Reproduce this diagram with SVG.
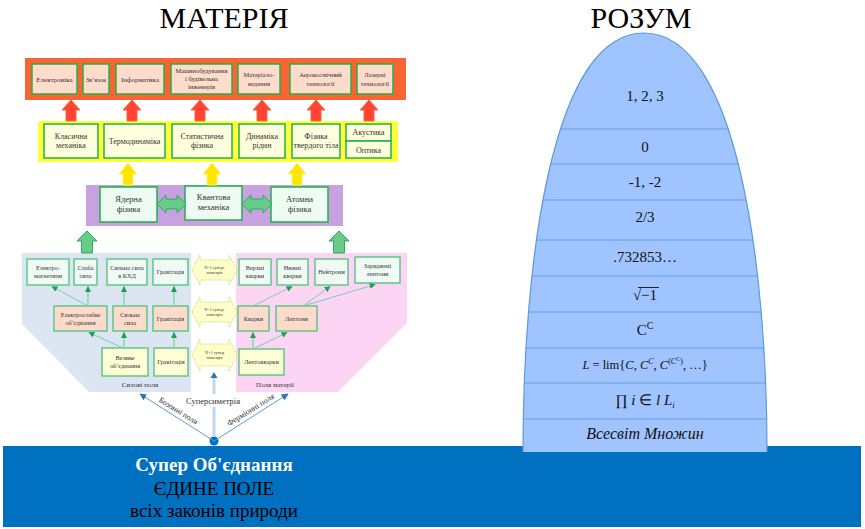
<svg xmlns="http://www.w3.org/2000/svg" width="865" height="529" viewBox="0 0 865 529">
<defs>
<style>
text{font-family:"Liberation Serif","Times New Roman",serif;fill:#333;text-anchor:middle}
.ob{fill:#FDDCCB;stroke:#22B04B;stroke-width:1.5}
.yb{fill:#FFFFDD;stroke:#22B04B;stroke-width:1.5}
.pb{fill:#EEFBF3;stroke:#22B04B;stroke-width:1.5}
.mb{fill:#F0FAF4;stroke:#4CC27A;stroke-width:1.3}
.pe{fill:#FCDBCB;stroke:#4CC27A;stroke-width:1.3}
.ly{fill:#FFFFD5;stroke:#4CC27A;stroke-width:1.3}
.t7{font-size:7px}
.t65{font-size:6.5px}
.t8{font-size:8px}
.t85{font-size:8.5px}
.t6{font-size:6.3px}
.ra{fill:#FF4433;stroke:#F26A3A;stroke-width:1}
.ya{fill:#FFE600;stroke:#FFF06A;stroke-width:1}
.ga{fill:#66CC88;stroke:#2FAA60;stroke-width:1}
.hx{fill:#FFFFCC;stroke:#C9DE5A;stroke-width:0.8;stroke-dasharray:2 1}
.hxt{font-size:4.3px}
.cn{stroke:#6CCCA8;stroke-width:0.9;fill:none;marker-end:url(#gh)}
.cv{stroke:#8AD8B0;stroke-width:1.6;fill:none;marker-end:url(#gh)}
.bl{stroke:#5B9BD5;stroke-width:1;fill:none;marker-end:url(#bh)}
.dm{font-size:15px;fill:#111}
.i{font-style:italic}
</style>
<marker id="gh" viewBox="0 0 10 10" refX="9" refY="5" markerWidth="6" markerHeight="6" markerUnits="userSpaceOnUse" orient="auto"><path d="M0,0 L10,5 L0,10 Z" fill="#1E9E50"/></marker>
<marker id="bh" viewBox="0 0 10 10" refX="9" refY="5" markerWidth="7" markerHeight="7" markerUnits="userSpaceOnUse" orient="auto"><path d="M0,0 L10,5 L0,10 Z" fill="#2E75B6"/></marker>
<clipPath id="domeclip"><path d="M523,452 C523,270 550,33 644,33 C738,33 767,270 767,452 Z"/></clipPath>
</defs>

<g id="titles">
<text x="224" y="28" style="font-size:30px;fill:#000">МАТЕРІЯ</text>
<text x="641" y="28" style="font-size:30px;fill:#000">РОЗУМ</text>
</g>

<g id="band">
<rect x="3" y="446" width="858" height="81" fill="#0070C0"/>
<text x="214" y="471" style="font-size:19px;font-weight:bold;fill:#fff">Супер Об'єднання</text>
<text x="214" y="495" style="font-size:19px;fill:#000">ЄДИНЕ ПОЛЕ</text>
<text x="214" y="517" style="font-size:19px;fill:#000">всіх законів природи</text>
</g>

<g id="dome">
<path d="M523,452 C523,270 550,33 644,33 C738,33 767,270 767,452 Z" fill="#A0C4FF"/>
<g clip-path="url(#domeclip)" stroke="#6A9FD8" stroke-width="1">
<line x1="500" y1="129" x2="800" y2="129"/>
<line x1="500" y1="164" x2="800" y2="164"/>
<line x1="500" y1="200" x2="800" y2="200"/>
<line x1="500" y1="240" x2="800" y2="240"/>
<line x1="500" y1="276" x2="800" y2="276"/>
<line x1="500" y1="312" x2="800" y2="312"/>
<line x1="500" y1="348" x2="800" y2="348"/>
<line x1="500" y1="383" x2="800" y2="383"/>
<line x1="500" y1="419" x2="800" y2="419"/>
</g>
<path d="M523,452 C523,270 550,33 644,33 C738,33 767,270 767,452" fill="none" stroke="#5B9BD5" stroke-width="1.2"/>
<text class="dm" x="645" y="101">1, 2, 3</text>
<text class="dm" x="645" y="152">0</text>
<text class="dm" x="645" y="187">-1, -2</text>
<text class="dm" x="645" y="222">2/3</text>
<text class="dm" x="645" y="262">.732853…</text>
<text class="dm" x="645" y="300">√−1</text>
<line x1="638" y1="287.5" x2="659" y2="287.5" stroke="#111" stroke-width="0.9"/>
<text class="dm" x="645" y="335">C<tspan dy="-6" style="font-size:10px">C</tspan></text>
<text class="dm" x="645" y="369" style="font-size:12.5px"><tspan class="i">L</tspan> =  lim{<tspan class="i">C</tspan>, <tspan class="i">C</tspan><tspan class="i" dy="-5" style="font-size:8px">C</tspan><tspan dy="5">, </tspan><tspan class="i">C</tspan><tspan dy="-5" style="font-size:8px">(</tspan><tspan class="i" style="font-size:8px">C</tspan><tspan class="i" dy="-3" style="font-size:6px">C</tspan><tspan dy="3" style="font-size:8px">)</tspan><tspan dy="5">, …}</tspan></text>
<text class="dm" x="645" y="405">∏ <tspan class="i">i</tspan> ∈ <tspan class="i">l L</tspan><tspan class="i" dy="3" style="font-size:9px">i</tspan></text>
<text class="dm i" x="645" y="439" style="font-size:16px">Всесвіт Множин</text>
</g>

<g id="orange-bar">
<rect x="25" y="58" width="381" height="42" fill="#FA6432"/>
</g>
<g id="n-electronics"><rect class="ob" x="32" y="64" width="45" height="30"/><text class="t7" x="54.5" y="81.5">Електроніка</text></g>
<g id="n-zvyazok"><rect class="ob" x="83" y="64" width="26" height="30"/><text class="t65" x="96" y="81.5">Зв’язок</text></g>
<g id="n-informatics"><rect class="ob" x="116" y="64" width="48" height="30"/><text class="t7" x="140" y="81.5">Інформатика</text></g>
<g id="n-mechanical"><rect class="ob" x="171" y="64" width="61" height="30"/><text class="t65" x="201.5" y="73">Машинобудування</text><text class="t65" x="201.5" y="81">і будівельна</text><text class="t65" x="201.5" y="89">інженерія</text></g>
<g id="n-materials"><rect class="ob" x="238" y="64" width="42" height="30"/><text class="t65" x="259" y="77">Матеріало-</text><text class="t65" x="259" y="86">ведення</text></g>
<g id="n-aerospace"><rect class="ob" x="290" y="64" width="61" height="30"/><text class="t65" x="320.5" y="77">Аерокосмічний</text><text class="t65" x="320.5" y="86">технології</text></g>
<g id="n-laser"><rect class="ob" x="357" y="64" width="36" height="30"/><text class="t65" x="375" y="77">Лазерні</text><text class="t65" x="375" y="86">технології</text></g>

<g id="yellow-bar">
<rect x="38" y="121" width="360" height="41" fill="#FFFF3C"/>
</g>
<g id="n-classical"><rect class="yb" x="44" y="124" width="54" height="34"/><text class="t8" x="71" y="139">Класична</text><text class="t8" x="71" y="148">механіка</text></g>
<g id="n-thermo"><rect class="yb" x="104" y="124" width="61" height="34"/><text class="t8" x="134.5" y="143.5">Термодинаміка</text></g>
<g id="n-statistical"><rect class="yb" x="172" y="124" width="60" height="34"/><text class="t8" x="202" y="139">Статистична</text><text class="t8" x="202" y="148">фізика</text></g>
<g id="n-fluid"><rect class="yb" x="239" y="124" width="46" height="34"/><text class="t8" x="262" y="139">Динаміка</text><text class="t8" x="262" y="148">рідин</text></g>
<g id="n-solid"><rect class="yb" x="292" y="124" width="48" height="34"/><text class="t8" x="316" y="139">Фізика</text><text class="t8" x="316" y="148">твердого тіла</text></g>
<g id="n-acoustics"><rect class="yb" x="346" y="124" width="45" height="17"/><text class="t8" x="368.5" y="135">Акустика</text></g>
<g id="n-optics"><rect class="yb" x="346" y="141" width="45" height="17"/><text class="t8" x="368.5" y="152.5">Оптика</text></g>

<g id="purple-bar">
<rect x="86" y="185" width="257" height="41" fill="#C8A2E0"/>
</g>
<g id="n-nuclear"><rect class="pb" x="100" y="187" width="57" height="35"/><text class="t85" x="128.5" y="202">Ядерна</text><text class="t85" x="128.5" y="212">фізика</text></g>
<g id="n-quantum"><rect class="pb" x="185" y="186" width="57" height="34"/><text class="t85" x="213.5" y="200">Квантова</text><text class="t85" x="213.5" y="210">механіка</text></g>
<g id="n-atomic"><rect class="pb" x="271" y="187" width="57" height="35"/><text class="t85" x="299.5" y="202">Атомна</text><text class="t85" x="299.5" y="212">фізика</text></g>

<g id="force-fields">
<path d="M22,253 L191,253 L191,392 L89,392 L22,324 Z" fill="#DCE6F2"/>
<text x="140" y="386.5" style="font-size:7px">Силові поля</text>
</g>
<g id="matter-fields">
<path d="M236,253 L407,253 L407,323 L338,392 L236,392 Z" fill="#FCD5F4"/>
<text x="275" y="386.5" style="font-size:7px">Поля матерії</text>
</g>

<g id="n-em"><rect class="mb" x="27" y="259" width="42" height="26"/><text class="t6" x="48" y="270">Електро-</text><text class="t6" x="48" y="278">магнетизм</text></g>
<g id="n-weak"><rect class="mb" x="74" y="259" width="23" height="26"/><text class="t6" x="85.5" y="270">Слаба</text><text class="t6" x="85.5" y="278">сила</text></g>
<g id="n-strong-qcd"><rect class="mb" x="107" y="259" width="40" height="26"/><text class="t6" x="127" y="270">Сильна сила</text><text class="t6" x="127" y="278">в КХД</text></g>
<g id="n-grav1"><rect class="mb" x="153" y="259" width="35" height="26"/><text class="t6" x="170.5" y="274">Гравітація</text></g>
<g id="n-electroweak"><rect class="pe" x="54" y="306" width="53" height="25"/><text class="t6" x="80.5" y="316.5">Електрослабке</text><text class="t6" x="80.5" y="324.5">об’єднання</text></g>
<g id="n-strong"><rect class="pe" x="113" y="306" width="34" height="25"/><text class="t6" x="130" y="316.5">Сильна</text><text class="t6" x="130" y="324.5">сила</text></g>
<g id="n-grav2"><rect class="pe" x="153" y="306" width="35" height="25"/><text class="t6" x="170.5" y="320.5">Гравітація</text></g>
<g id="n-gut"><rect class="ly" x="102" y="348" width="46" height="28"/><text class="t6" x="125" y="359.5">Велике</text><text class="t6" x="125" y="368">об’єднання</text></g>
<g id="n-grav3"><rect class="ly" x="154" y="348" width="34" height="28"/><text class="t6" x="171" y="364">Гравітація</text></g>

<g id="n-upq"><rect class="mb" x="239" y="259" width="32" height="26"/><text class="t6" x="255" y="270">Верхні</text><text class="t6" x="255" y="278">кварки</text></g>
<g id="n-downq"><rect class="mb" x="277" y="259" width="31" height="26"/><text class="t6" x="292.5" y="270">Нижні</text><text class="t6" x="292.5" y="278">кварки</text></g>
<g id="n-neutrons"><rect class="mb" x="315" y="259" width="33" height="26"/><text class="t6" x="331.5" y="274">Нейтрони</text></g>
<g id="n-charged"><rect class="mb" x="355" y="257" width="45" height="26"/><text class="t6" x="377.5" y="268">Заряджені</text><text class="t6" x="377.5" y="276">лептони</text></g>
<g id="n-quarks"><rect class="pe" x="238" y="306" width="31" height="25"/><text class="t6" x="253.5" y="320.5">Кварки</text></g>
<g id="n-leptons"><rect class="pe" x="276" y="306" width="41" height="25"/><text class="t6" x="296.5" y="320.5">Лептони</text></g>
<g id="n-leptoquarks"><rect class="ly" x="239" y="349" width="45" height="26"/><text class="t6" x="261.5" y="364">Лептокварки</text></g>

<g id="n-susy1"><path class="hx" d="M192,270 L200,255 L200,260 L229,260 L229,255 L237,270 L229,285 L229,280 L200,280 L200,285 Z"/><text class="hxt" x="214.5" y="268.5">N=1 супер-</text><text class="hxt" x="214.5" y="274">симетрія</text></g>
<g id="n-susy2"><path class="hx" d="M192,312 L200,297 L200,302 L229,302 L229,297 L237,312 L229,327 L229,322 L200,322 L200,327 Z"/><text class="hxt" x="214.5" y="310.5">N=1 супер-</text><text class="hxt" x="214.5" y="316">симетрія</text></g>
<g id="n-susy3"><path class="hx" d="M192,355 L200,339 L200,344 L229,344 L229,339 L237,355 L229,371 L229,366 L200,366 L200,371 Z"/><text class="hxt" x="214.5" y="353.5">N=1 супер</text><text class="hxt" x="214.5" y="359">симетрія</text></g>

<g id="n-origin"><circle cx="214" cy="441" r="4.5" fill="#0070C0"/></g>

<g id="connectors">
<path class="ra" d="M71,100 L80,110 L76,110 L76,121 L66,121 L66,110 L62,110 Z"/>
<path class="ra" d="M132,100 L141,110 L137,110 L137,121 L127,121 L127,110 L123,110 Z"/>
<path class="ra" d="M200,100 L209,110 L205,110 L205,121 L195,121 L195,110 L191,110 Z"/>
<path class="ra" d="M262,100 L271,110 L267,110 L267,121 L257,121 L257,110 L253,110 Z"/>
<path class="ra" d="M316,100 L325,110 L321,110 L321,121 L311,121 L311,110 L307,110 Z"/>
<path class="ra" d="M369,100 L378,110 L374,110 L374,121 L364,121 L364,110 L360,110 Z"/>
<path class="ya" d="M128,163 L137,174 L133,174 L133,185 L123,185 L123,174 L119,174 Z"/>
<path class="ya" d="M212,163 L221,174 L217,174 L217,185 L207,185 L207,174 L203,174 Z"/>
<path class="ya" d="M297,163 L306,174 L302,174 L302,185 L292,185 L292,174 L288,174 Z"/>
<path class="ga" d="M157,204 L166,195 L166,199 L177,199 L177,195 L186,204 L177,213 L177,209 L166,209 L166,213 Z"/>
<path class="ga" d="M242,204 L251,195 L251,199 L263,199 L263,195 L272,204 L263,213 L263,209 L251,209 L251,213 Z"/>
<path class="ga" d="M87,231 L97,241 L92.5,241 L92.5,253 L81.5,253 L81.5,241 L77,241 Z"/>
<path class="ga" d="M339,231 L349,241 L344.5,241 L344.5,253 L333.5,253 L333.5,241 L329,241 Z"/>
<path class="cn" d="M88,306 L52,286.5"/>
<path class="cv" d="M88,306 L88,286.5"/>
<path class="cv" d="M124,306 L124,286.5"/>
<path class="cv" d="M174,306 L174,286.5"/>
<path class="cn" d="M123,348 L89,332.5"/>
<path class="cv" d="M124,348 L124,332.5"/>
<path class="cv" d="M174,348 L174,332.5"/>
<path class="cn" d="M253,306 L292,286.5"/>
<path class="cn" d="M303,306 L330,286.5"/>
<path class="cn" d="M303,306 L375,284.5"/>
<path class="cv" d="M253,349 L253,332.5"/>
<path class="cn" d="M253,349 L287,332.5"/>
<line x1="214" y1="378" x2="214" y2="394" stroke="#BDD7EE" stroke-width="3"/>
<line x1="214" y1="407" x2="214" y2="437" stroke="#BDD7EE" stroke-width="3"/>
<path d="M214,372 L217.5,378 L210.5,378 Z" fill="#2E75B6"/>
<path class="bl" d="M214,441 L140,394"/>
<path class="bl" d="M214,441 L288,394"/>
<text x="213" y="403.5" style="font-size:8.5px">Суперсиметрія</text>
<text x="0" y="0" style="font-size:8px" transform="translate(177,413) rotate(32)">Бозонні поля</text>
<text x="0" y="0" style="font-size:8px" transform="translate(252,412) rotate(-32)">Ферміонні поля</text>
</g>
</svg>
